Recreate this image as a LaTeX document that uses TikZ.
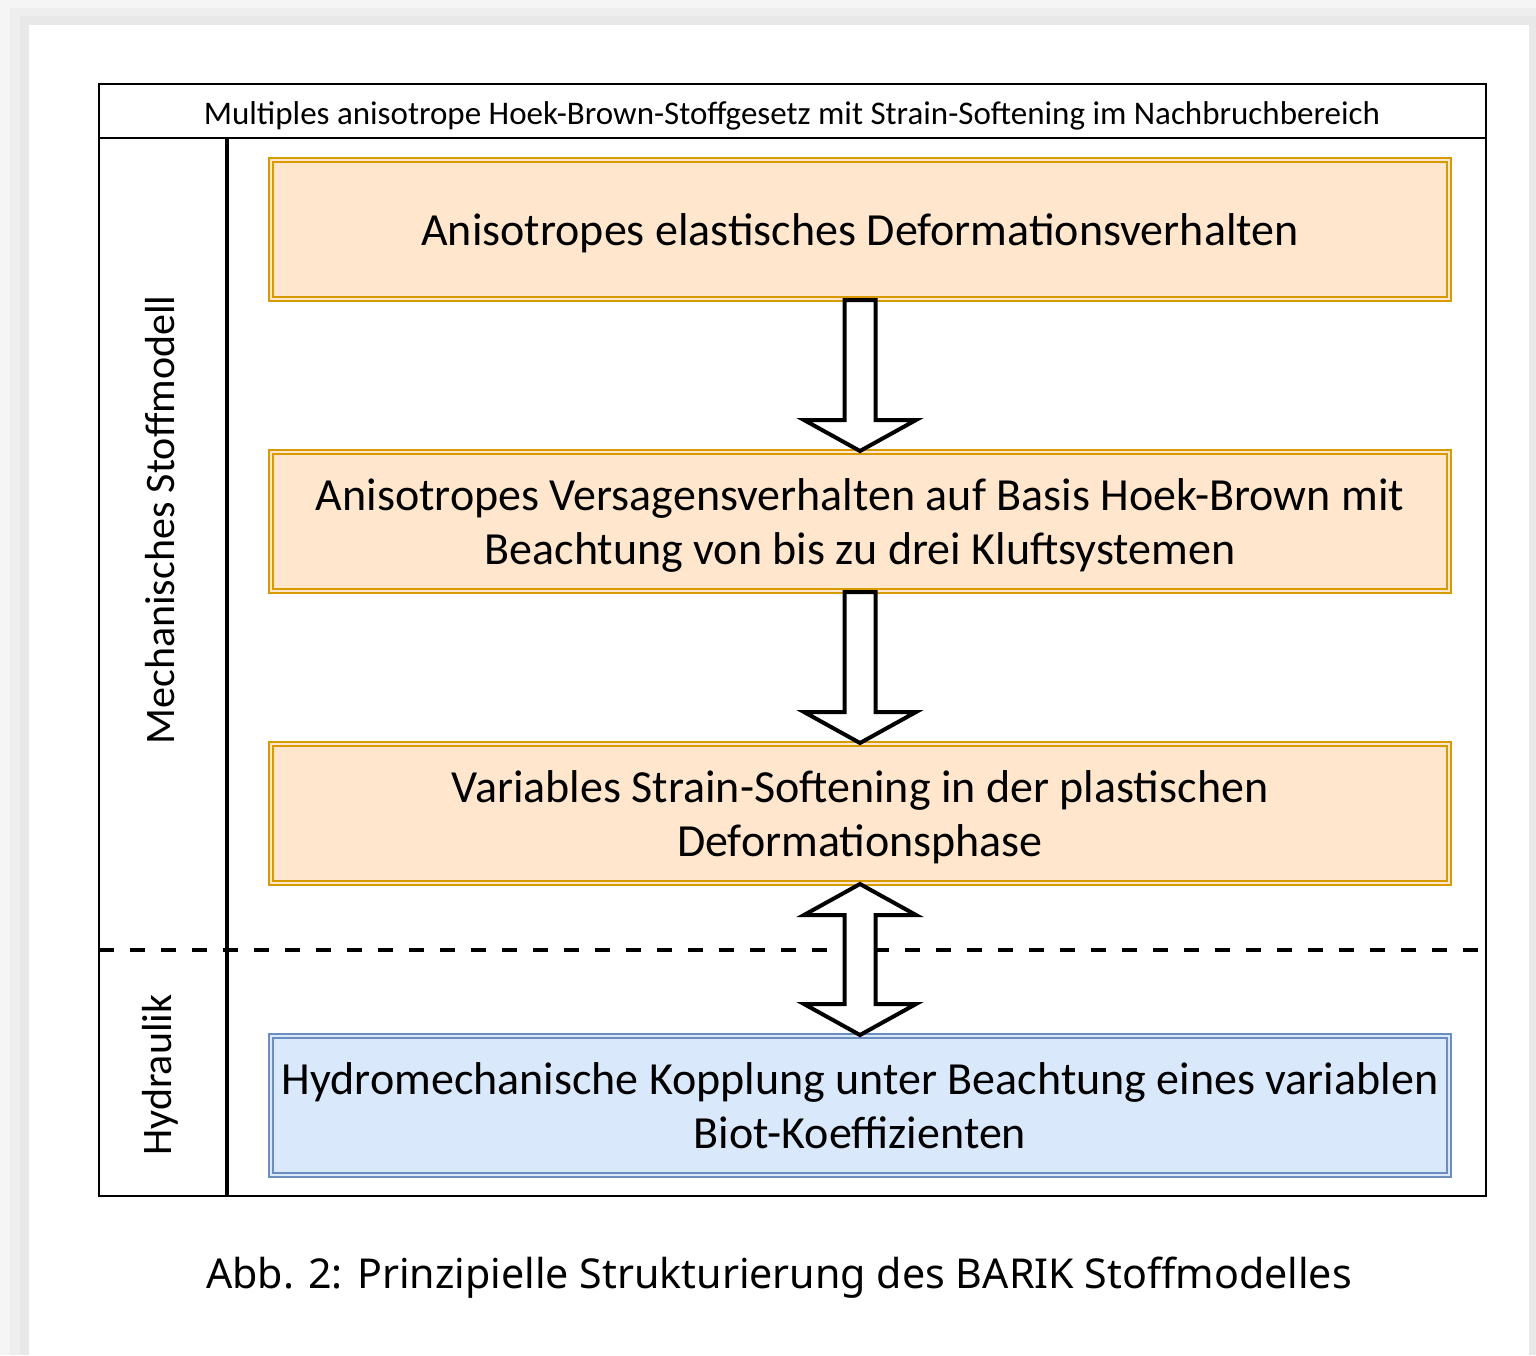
\documentclass[tikz,border=0pt]{standalone}
\usepackage{fontspec}
\setmainfont{Carlito}
\newfontfamily\captionfont{Noto Sans}
\usetikzlibrary{calc}
\definecolor{stageorange}{HTML}{D79B00}
\definecolor{stagepeach}{HTML}{FFE6CC}
\definecolor{hydroblue}{HTML}{6C8EBF}
\definecolor{hydrosky}{HTML}{DAE8FC}

\begin{document}
\begin{tikzpicture}[x=0.5pt, y=-0.5pt,
    stage/.style={rectangle, draw=stageorange, double=stagepeach, double distance=1pt,
                  line width=1pt, fill=stagepeach, minimum width=589pt, minimum height=69.5pt,
                  inner sep=0pt, text depth=0pt, align=center, font=\fontsize{23}{27}\selectfont},
    hydro/.style={stage, draw=hydroblue, double=hydrosky, fill=hydrosky},
    sidelabel/.style={rotate=90, font=\fontsize{21}{25}\selectfont},
    blockarrow/.style={draw=black, fill=white, line width=2pt, line join=miter}]

% background and page
\useasboundingbox (0,0) rectangle (1536,1355);
\fill[gray!8]  (0,0)   rectangle (1536,1355);
\fill[gray!13] (10,8)  rectangle (1536,1355);
\fill[gray!18] (20,16) rectangle (1536,1355);
\fill[white]   (29,25) rectangle (1529,1355);

% table frame
\draw[line width=1pt] (99,84) rectangle (1486,1196);
\draw[line width=1pt] (99,138) -- (1486,138);
\draw[line width=2pt] (227,138) -- (227,1196);
\draw[line width=2pt, dash pattern=on 7.5pt off 8pt] (99,950) -- (1486,950);

\node (title) at (792,116) {\fontsize{16.5}{19}\selectfont Multiples anisotrope Hoek-Brown-Stoffgesetz mit Strain-Softening im Nachbruchbereich};
\node (mech)  [sidelabel] at (160,520)  {Mechanisches Stoffmodell};
\node (hydr)  [sidelabel] at (160,1075) {Hydraulik};

\node (elastic) [stage] at (860,229.5)  {Anisotropes elastisches Deformationsverhalten};
\node (failure) [stage] at (860,521.5)  {Anisotropes Versagensverhalten auf Basis Hoek-Brown mit\\Beachtung von bis zu drei Kluftsystemen};
\node (soften)  [stage] at (860,813.5)  {Variables Strain-Softening in der plastischen\\Deformationsphase};
\node (coupling)[hydro] at (860,1105.5) {Hydromechanische Kopplung unter Beachtung eines variablen\\Biot-Koeffizienten};

% block arrows
\draw[blockarrow] ($(elastic.south)+(-15.5,0)$) -- ($(failure.north)+(-15.5,-31)$)
    -- ($(failure.north)+(-56,-31)$) -- (failure.north) -- ($(failure.north)+(56,-31)$)
    -- ($(failure.north)+(15.5,-31)$) -- ($(elastic.south)+(15.5,0)$) -- cycle;
\draw[blockarrow] ($(failure.south)+(-15.5,0)$) -- ($(soften.north)+(-15.5,-31)$)
    -- ($(soften.north)+(-56,-31)$) -- (soften.north) -- ($(soften.north)+(56,-31)$)
    -- ($(soften.north)+(15.5,-31)$) -- ($(failure.south)+(15.5,0)$) -- cycle;
\draw[blockarrow] (soften.south) -- ($(soften.south)+(56,31)$) -- ($(soften.south)+(15.5,31)$)
    -- ($(coupling.north)+(15.5,-31)$) -- ($(coupling.north)+(56,-31)$) -- (coupling.north)
    -- ($(coupling.north)+(-56,-31)$) -- ($(coupling.north)+(-15.5,-31)$)
    -- ($(soften.south)+(-15.5,31)$) -- ($(soften.south)+(-56,31)$) -- cycle;

\node (caption) at (779,1278) {\captionfont\fontsize{20.6}{24}\selectfont Abb. 2: Prinzipielle Strukturierung des BARIK Stoffmodelles};
\end{tikzpicture}
\end{document}
